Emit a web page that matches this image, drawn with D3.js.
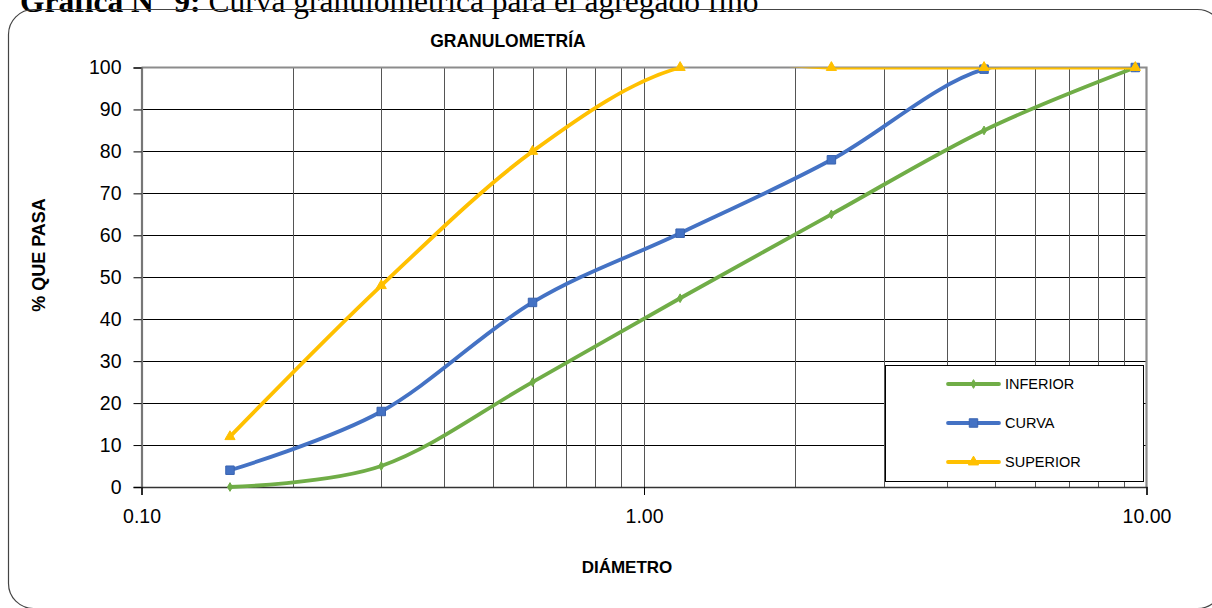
<!DOCTYPE html>
<html>
<head>
<meta charset="utf-8">
<script src="https://cdn.jsdelivr.net/npm/d3@7"></script>
<style>
  html, body { margin: 0; padding: 0; background: #fff; }
  svg { display: block; }
</style>
</head>
<body>
<svg id="chart" width="1212" height="608"></svg>
<script>
// Sieve openings (mm) and percent passing for each curve
const diameters = [0.15, 0.3, 0.6, 1.18, 2.36, 4.75, 9.5];
const inferior  = [0, 5, 25, 45, 65, 85, 100];
const curva     = [4, 18, 44, 60.5, 78, 99.6, 100];
const superior  = [12, 48, 80, 100, 100, 100, 100];

const yTicks = [0, 10, 20, 30, 40, 50, 60, 70, 80, 90, 100];
const xMajorTicks = [0.1, 1, 10];
const xMinorTicks = [0.2, 0.3, 0.4, 0.5, 0.6, 0.7, 0.8, 0.9, 2, 3, 4, 5, 6, 7, 8, 9];

const seriesNames = ["INFERIOR", "CURVA", "SUPERIOR"];
const seriesColors = ["#70AD47", "#4472C4", "#FFC000"];

const svg = d3.select("#chart");

// plot box
const plotL = 141.5, plotR = 1146.5, plotT = 67.5, plotB = 487;

const x = d3.scaleLog().domain([0.1, 10]).range([plotL, plotR]);
const y = d3.scaleLinear().domain([0, 100]).range([plotB, plotT]);

// page caption above the chart frame
const cap = svg.append("text")
  .attr("x", 20).attr("y", 12)
  .attr("font-family", "'Liberation Serif', 'Times New Roman', serif")
  .attr("font-size", 31.5)
  .attr("fill", "#000");
cap.append("tspan").attr("font-weight", "bold").text("Gráfica N° 9:");
cap.append("tspan").text(" Curva granulométrica para el agregado fino");

// rounded chart frame
svg.append("rect")
  .attr("x", 8.5).attr("y", 9.5)
  .attr("width", 1214).attr("height", 599)
  .attr("rx", 25).attr("ry", 25)
  .attr("fill", "none")
  .attr("stroke", "#444")
  .attr("stroke-width", 1.2);

// chart title
svg.append("text")
  .attr("x", 508).attr("y", 46.5)
  .attr("text-anchor", "middle")
  .attr("font-family", "'Liberation Sans', Arial, sans-serif")
  .attr("font-weight", "bold")
  .attr("font-size", 17.5)
  .text("GRANULOMETRÍA");

// horizontal gridlines
svg.append("g").selectAll("line")
  .data(yTicks.filter(d => d > 0 && d < 100))
  .join("line")
  .attr("x1", plotL).attr("x2", plotR)
  .attr("y1", d => Math.round(y(d)) + 0.5).attr("y2", d => Math.round(y(d)) + 0.5)
  .attr("stroke", "#000").attr("stroke-width", 1);

// vertical gridlines (log decades and minor steps)
svg.append("g").selectAll("line")
  .data(xMinorTicks.concat([1]))
  .join("line")
  .attr("x1", d => Math.round(x(d)) + 0.5).attr("x2", d => Math.round(x(d)) + 0.5)
  .attr("y1", plotT).attr("y2", plotB)
  .attr("stroke", "#555").attr("stroke-width", 1);

// plot border top/right
svg.append("path")
  .attr("d", `M${plotL},${plotT}H${plotR}V${plotB}`)
  .attr("fill", "none")
  .attr("stroke", "#8c8c8c")
  .attr("stroke-width", 2.2);

// y axis
const yAxis = d3.axisLeft(y).tickValues(yTicks).tickSize(8).tickPadding(12).tickFormat(d3.format("d"));
const gy = svg.append("g").attr("transform", `translate(${plotL},0)`).call(yAxis);
gy.select(".domain").attr("stroke", "#777").attr("stroke-width", 2.2);
gy.selectAll(".tick line").attr("stroke", "#000");
gy.selectAll(".tick text")
  .attr("font-family", "'Liberation Sans', Arial, sans-serif")
  .attr("font-size", 19.5).attr("fill", "#000");

// x axis
const xAxis = d3.axisBottom(x).tickValues(xMajorTicks).tickSize(8).tickPadding(14).tickFormat(d3.format(".2f"));
const gx = svg.append("g").attr("transform", `translate(0,${plotB})`).call(xAxis);
gx.select(".domain").attr("stroke", "#333").attr("stroke-width", 1.6);
gx.selectAll(".tick line").attr("stroke", "#000");
gx.selectAll(".tick text")
  .attr("font-family", "'Liberation Sans', Arial, sans-serif")
  .attr("font-size", 19.5).attr("fill", "#000");

// axis titles
svg.append("text")
  .attr("x", 627).attr("y", 572.5)
  .attr("text-anchor", "middle")
  .attr("font-family", "'Liberation Sans', Arial, sans-serif")
  .attr("font-weight", "bold").attr("font-size", 17)
  .text("DIÁMETRO");

svg.append("text")
  .attr("transform", "translate(45,255) rotate(-90)")
  .attr("text-anchor", "middle")
  .attr("font-family", "'Liberation Sans', Arial, sans-serif")
  .attr("font-weight", "bold").attr("font-size", 18)
  .text("% QUE PASA");

// clip series lines to plot box
svg.append("defs").append("clipPath").attr("id", "plotClip")
  .append("rect").attr("x", plotL).attr("y", plotT)
  .attr("width", plotR - plotL).attr("height", plotB - plotT + 3);

const series = [inferior, curva, superior].map((vals, i) => ({
  name: seriesNames[i],
  color: seriesColors[i],
  points: diameters.map((d, j) => ({ d, v: vals[j] }))
}));

const line = d3.line()
  .x(p => x(p.d)).y(p => y(p.v))
  .curve(d3.curveCardinal.tension(0));

const markerShapes = [d3.symbolDiamond, d3.symbolSquare, d3.symbolTriangle];
const markerSizes = [22, 72, 45];
const markerStroke = ["#70AD47", "#3a64b0", "#FFC000"];

series.forEach((s, i) => {
  svg.append("path")
    .datum(s.points)
    .attr("clip-path", "url(#plotClip)")
    .attr("d", line)
    .attr("fill", "none")
    .attr("stroke", s.color)
    .attr("stroke-width", 3.8)
    .attr("stroke-linecap", "round")
    .attr("stroke-linejoin", "round");

  svg.append("g").selectAll("path")
    .data(s.points)
    .join("path")
    .attr("transform", p => `translate(${x(p.d)},${y(p.v)})`)
    .attr("d", d3.symbol().type(markerShapes[i]).size(markerSizes[i]))
    .attr("fill", s.color)
    .attr("stroke", markerStroke[i])
    .attr("stroke-width", 1);
});

// legend
const lg = svg.append("g");
lg.append("rect")
  .attr("x", 885.5).attr("y", 365.5)
  .attr("width", 258).attr("height", 116)
  .attr("fill", "#fff").attr("stroke", "#000").attr("stroke-width", 1);

const rowsY = [384, 423, 462];
series.forEach((s, i) => {
  const ry = rowsY[i];
  lg.append("line")
    .attr("x1", 948).attr("x2", 999)
    .attr("y1", ry).attr("y2", ry)
    .attr("stroke", s.color).attr("stroke-width", 3.8)
    .attr("stroke-linecap", "round");
  lg.append("path")
    .attr("transform", `translate(973.5,${ry})`)
    .attr("d", d3.symbol().type(markerShapes[i]).size(markerSizes[i]))
    .attr("fill", s.color).attr("stroke", markerStroke[i]).attr("stroke-width", 1);
  lg.append("text")
    .attr("x", 1005).attr("y", ry + 5)
    .attr("font-family", "'Liberation Sans', Arial, sans-serif")
    .attr("font-size", 14.5).attr("fill", "#000")
    .text(s.name);
});
</script>
</body>
</html>
